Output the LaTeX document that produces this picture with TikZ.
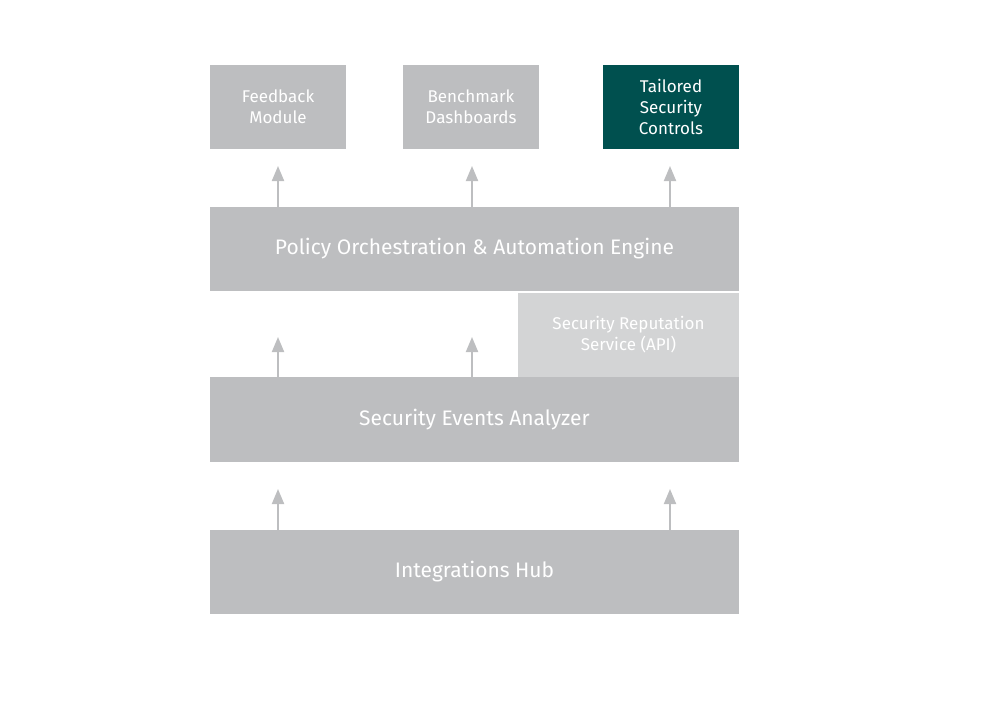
\documentclass[tikz,border=0pt]{standalone}
\usepackage{fontspec}
\setmainfont{Fira Sans}
\usetikzlibrary{arrows.meta}
\definecolor{boxg}{HTML}{BDBEC0}
\definecolor{lightg}{HTML}{D3D4D5}
\definecolor{teal}{HTML}{00504F}
\definecolor{arrg}{HTML}{BDBEC0}
\begin{document}
\begin{tikzpicture}[x=1pt,y=-1pt,
  box/.style={fill=boxg,draw=none,text=white,inner sep=0pt,align=center,font=\fontsize{17}{21}\selectfont},
  big/.style={box,font=\fontsize{21}{25}\selectfont},
  up/.style={draw=arrg,line width=2pt,-{Triangle[width=12pt,length=15pt]}}]
\useasboundingbox (0,0) rectangle (1008,720);
\node[box,minimum width=136pt,minimum height=84pt] (fb) at (278,107) {Feedback\\Module};
\node[box,minimum width=136pt,minimum height=84pt] (bd) at (471,107) {Benchmark\\Dashboards};
\node[box,fill=teal,minimum width=136pt,minimum height=84pt] (tc) at (671,107) {Tailored\\Security\\Controls};
\node[big,minimum width=529pt,minimum height=84pt] (po) at (474.5,249) {Policy Orchestration \& Automation Engine};
\node[box,fill=lightg,minimum width=221pt,minimum height=85pt] (sr) at (628.5,335) {Security Reputation\\Service (API)};
\node[big,minimum width=529pt,minimum height=85pt] (sa) at (474.5,419.5) {Security Events Analyzer};
\node[big,minimum width=529pt,minimum height=84pt] (ih) at (474.5,572) {Integrations Hub};
\coordinate (a1) at (278,166); \coordinate (a2) at (472,166); \coordinate (a3) at (670,166);
\coordinate (b1) at (278,337); \coordinate (b2) at (472,337);
\coordinate (c1) at (278,489); \coordinate (c2) at (670,489);
\draw[up] (po.north -| a1) -- (a1);
\draw[up] (po.north -| a2) -- (a2);
\draw[up] (po.north -| a3) -- (a3);
\draw[up] (sa.north -| b1) -- (b1);
\draw[up] (sa.north -| b2) -- (b2);
\draw[up] (ih.north -| c1) -- (c1);
\draw[up] (ih.north -| c2) -- (c2);
\end{tikzpicture}
\end{document}
